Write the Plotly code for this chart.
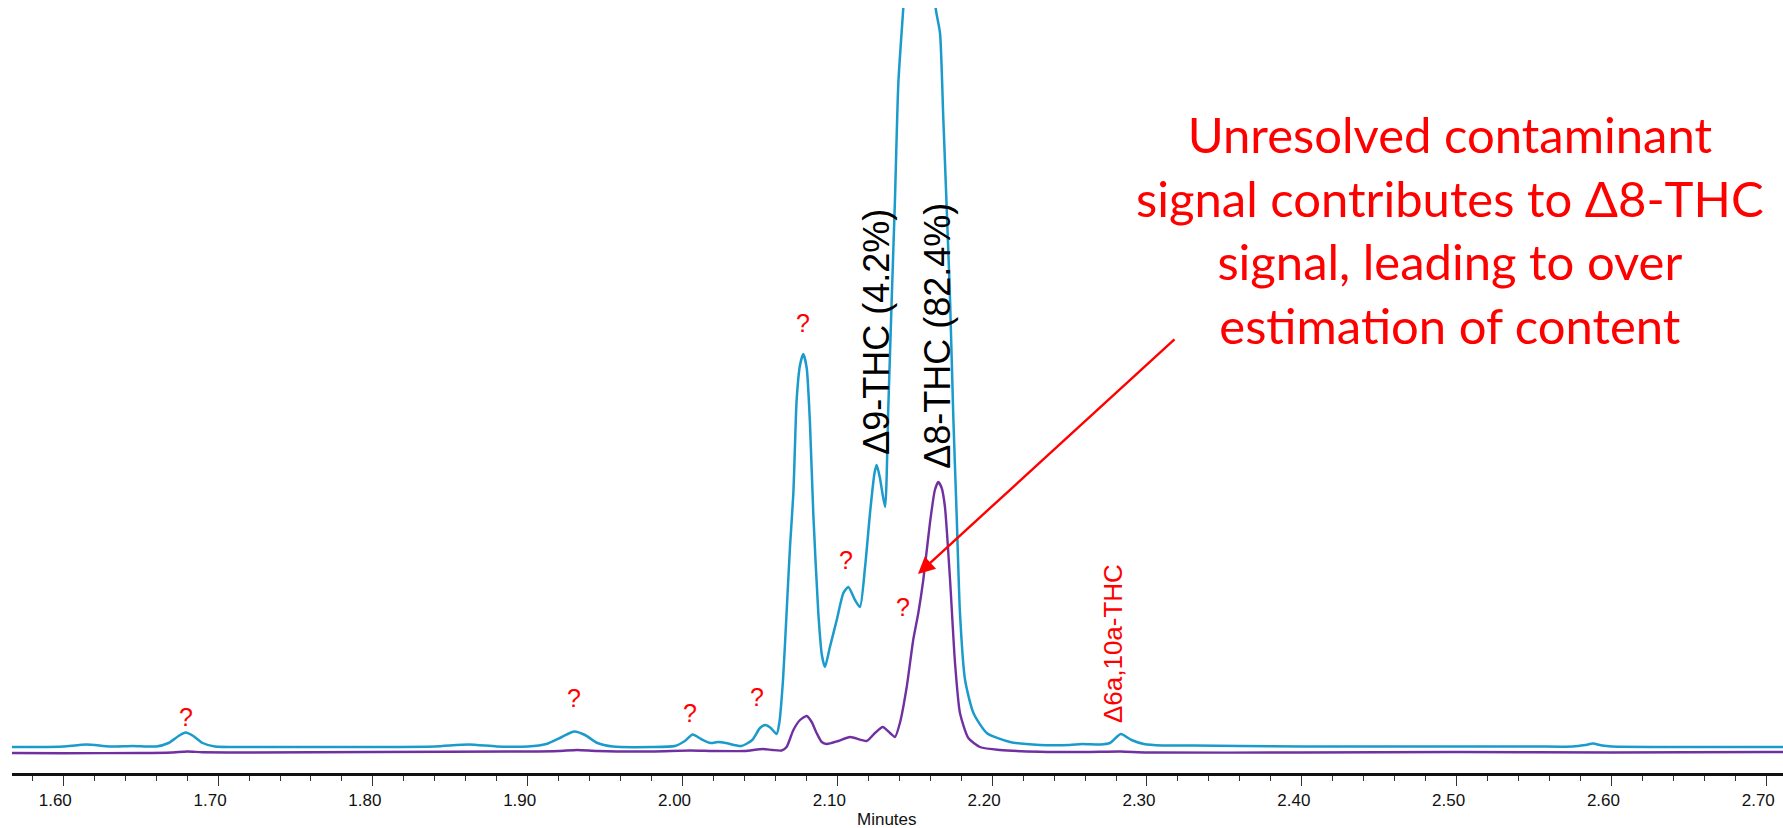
import plotly.graph_objects as go

# ---- data (retention time in minutes, detector signal in arbitrary units) ----
blue_t = [1.5669, 1.585, 1.600, 1.615, 1.630, 1.645, 1.660, 1.668, 1.6745, 1.679, 1.684, 1.690, 1.698,
          1.72, 1.76, 1.80, 1.84, 1.862, 1.88, 1.90, 1.912, 1.922, 1.930, 1.937, 1.945, 1.955, 1.98,
          1.995, 2.0015, 2.0065, 2.012, 2.018, 2.023, 2.028, 2.038, 2.045, 2.050, 2.0535, 2.057, 2.0608,
          2.0625, 2.0649, 2.0672, 2.0694, 2.0716, 2.0726, 2.0737, 2.0759, 2.0780, 2.0802, 2.0823, 2.0845,
          2.0877, 2.0900, 2.0920, 2.0952, 2.0996, 2.1039, 2.1071, 2.1114, 2.1146, 2.1179, 2.1211, 2.1240,
          2.1254, 2.1275, 2.1308, 2.1329, 2.1351, 2.1372, 2.1394, 2.1426, 2.1535, 2.1635, 2.1663, 2.1684,
          2.1706, 2.1728, 2.1749, 2.1771, 2.1792, 2.1825, 2.1879, 2.1965, 2.2115, 2.2309, 2.25, 2.258,
          2.27, 2.276, 2.2831, 2.29, 2.298, 2.31, 2.33, 2.36, 2.40, 2.45, 2.50, 2.55, 2.575, 2.583,
          2.588, 2.594, 2.60, 2.65, 2.70, 2.7108]
blue_h = [26, 26, 26.5, 28.5, 26.5, 27, 26.5, 30, 37, 40.5, 37, 30, 26.5,
          26, 26, 26, 26.5, 28.5, 26.5, 26.5, 29, 36, 41.5, 38, 30, 26.5, 26,
          27, 32, 38.5, 34, 30, 31, 30, 27, 33, 45, 48, 45, 39,
          50, 93, 160, 226, 280, 326, 373, 408, 419, 405, 350, 258,
          160, 118, 106, 126, 153, 180, 186, 173, 166, 206, 260, 300,
          308, 295, 266, 365, 473, 573, 690, 765, 1000, 765, 740, 656,
          566, 473, 356, 256, 160, 93, 60, 40, 31, 28, 28, 29,
          28.5, 30, 39, 33, 29, 27.5, 27.5, 27, 26.5, 26.5, 26.5, 26.5, 26.5, 28,
          29.5, 27.5, 26.5, 26, 26, 26]

purple_t = [1.5669, 1.60, 1.65, 1.67, 1.68, 1.69, 1.72, 1.80, 1.90, 1.92, 1.932, 1.945, 1.98,
            2.005, 2.02, 2.04, 2.052, 2.058, 2.0640, 2.0672, 2.0716, 2.0759, 2.0802, 2.0834, 2.0866,
            2.0899, 2.0931, 2.1006, 2.1082, 2.1189, 2.1243, 2.1293, 2.1340, 2.1372, 2.1404, 2.1448,
            2.1490, 2.1523, 2.1555, 2.1598, 2.1630, 2.1652, 2.1674, 2.1695, 2.1728, 2.1760, 2.1792,
            2.1846, 2.1921, 2.2050, 2.2309, 2.26, 2.283, 2.30, 2.40, 2.50, 2.60, 2.70, 2.7108]
purple_h = [20, 19.8, 20, 20.5, 21.5, 20.8, 20.5, 21, 21.5, 22, 23, 22, 21.5,
            22.5, 22, 22, 24, 23, 22.5, 26, 43, 53, 57, 51, 40,
            31, 29, 32, 36, 32, 40, 46, 40, 36, 50, 86,
            133, 160, 193, 250, 283, 291, 285, 266, 193, 110, 60,
            35, 26, 23, 21.3, 21, 21.5, 20.5, 20.5, 21, 20.5, 21, 21]

# unidentified peaks marked "?"
q_t = [1.6793, 1.9299, 2.0048, 2.0481, 2.0780, 2.1056, 2.1424]
q_h = [56, 75, 60, 76, 450, 213, 166]

# named peaks
peak_labels = ["Δ9-THC (4.2%)", "Δ8-THC (82.4%)"]
peak_t = [2.1248, 2.1642]
peak_h = [441, 437]
minor_label = "Δ6a,10a-THC"
minor_t = 2.2781
minor_h = 129

note_text = ("Unresolved contaminant<br>signal contributes to Δ8-THC<br>"
             "signal, leading to over<br>estimation of content")
x_title = "Minutes"

x_range = [1.5669, 2.7108]
y_range = [0, 765]

fig = go.Figure()
fig.add_trace(go.Scatter(x=blue_t, y=blue_h, mode="lines",
                         line=dict(color="#1a9bcb", width=2.5, shape="spline", smoothing=0.6),
                         hoverinfo="skip", showlegend=False))
fig.add_trace(go.Scatter(x=purple_t, y=purple_h, mode="lines",
                         line=dict(color="#7030a0", width=2.4, shape="spline", smoothing=0.6),
                         hoverinfo="skip", showlegend=False))

annots = []
for t, h in zip(q_t, q_h):
    annots.append(dict(x=t, y=h, xref="x", yref="y", text="?", showarrow=False,
                       font=dict(family="Liberation Sans, Arial", size=25, color="#ff0000")))
for lab, t, h in zip(peak_labels, peak_t, peak_h):
    annots.append(dict(x=t, y=h, xref="x", yref="y", text=lab, showarrow=False, textangle=-90,
                       font=dict(family="Liberation Sans, Arial", size=36, color="#000000")))
annots.append(dict(x=minor_t, y=minor_h, xref="x", yref="y", text=minor_label, showarrow=False,
                   textangle=-90, font=dict(family="Liberation Sans, Arial", size=26, color="#ff0000")))
annots.append(dict(x=2.4957, y=544, xref="x", yref="y", text=note_text, showarrow=False,
                   align="center", font=dict(family="Lato", size=49, color="#ff0000")))
annots.append(dict(x=2.1521, y=199, xref="x", yref="y", ax=2.3187, ay=435, axref="x", ayref="y",
                   text="", showarrow=True, arrowhead=2, arrowsize=1.4, arrowwidth=2.4,
                   arrowcolor="#ff0000"))
annots.append(dict(x=0.4939, y=-0.0614, xref="paper", yref="paper", text=x_title, showarrow=False,
                   xanchor="center", yanchor="middle",
                   font=dict(family="Liberation Sans, Arial", size=17, color="#111111")))

fig.update_layout(
    width=1783, height=828,
    margin=dict(l=12, r=0, t=8, b=55),
    paper_bgcolor="white", plot_bgcolor="white",
    annotations=annots,
    xaxis=dict(range=x_range, showgrid=False, zeroline=False,
               showline=True, linecolor="#111111", linewidth=2.5,
               ticks="outside", ticklen=10, tickwidth=1.2, tickcolor="#333333",
               tick0=1.6, dtick=0.1, tickformat=".2f", ticklabelshift=-8,
               minor=dict(ticks="outside", ticklen=5, tickwidth=1.2, tickcolor="#333333", dtick=0.02),
               tickfont=dict(family="Liberation Sans, Arial", size=17, color="#111111")),
    yaxis=dict(range=y_range, visible=False),
)

fig.write_html("out.html")
